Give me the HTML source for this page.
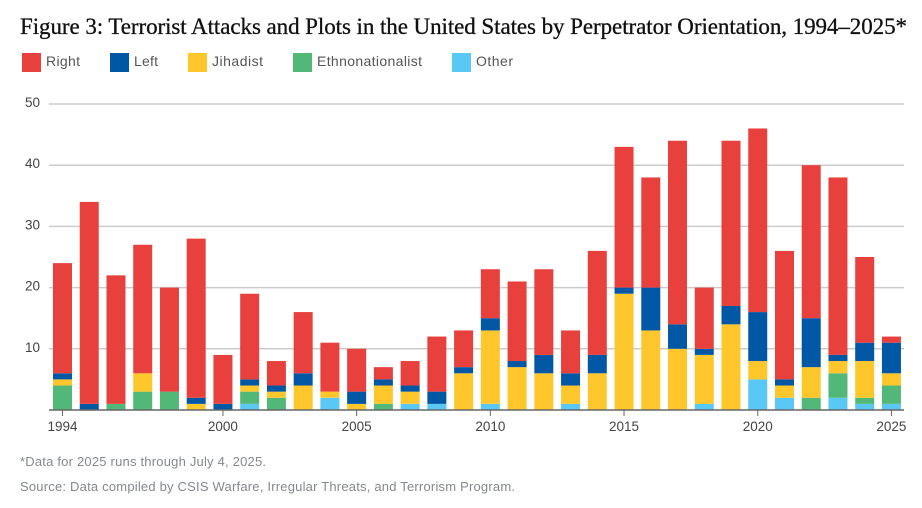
<!DOCTYPE html>
<html lang="en">
<head>
<meta charset="utf-8">
<title>Terrorist Attacks and Plots in the United States by Perpetrator Orientation</title>
<style>
html,body{margin:0;padding:0;background:#fff;width:922px;height:508px;overflow:hidden}
svg{display:block}
.sans{font-family:"Liberation Sans",sans-serif}
.serif{font-family:"Liberation Serif",serif}
</style>
</head>
<body>
<svg id="chart" width="922" height="508" viewBox="0 0 922 508" xmlns="http://www.w3.org/2000/svg">
  <text class="serif" x="20" y="34" font-size="23" fill="#111" stroke="#111" stroke-width="0.3" textLength="887" lengthAdjust="spacing">Figure 3: Terrorist Attacks and Plots in the United States by Perpetrator Orientation, 1994–2025*</text>
  <g class="sans" font-size="14" fill="#555">
    <g><rect x="22" y="53" width="19" height="19" fill="#E8403D"/><text x="46" y="66" textLength="34">Right</text></g>
    <g><rect x="110" y="53" width="19" height="19" fill="#0057A4"/><text x="134" y="66" textLength="24">Left</text></g>
    <g><rect x="188" y="53" width="19" height="19" fill="#FFC72C"/><text x="212" y="66" textLength="51">Jihadist</text></g>
    <g><rect x="293" y="53" width="19" height="19" fill="#52B878"/><text x="317" y="66" textLength="105">Ethnonationalist</text></g>
    <g><rect x="452" y="53" width="19" height="19" fill="#5AC8F5"/><text x="476" y="66" textLength="37">Other</text></g>
  </g>
  <g id="grid"></g>
  <g id="bars"></g>
  <g id="xaxis"></g>
  <text class="sans" x="20" y="466" font-size="13" fill="#85888c" textLength="246">*Data for 2025 runs through July 4, 2025.</text>
  <text class="sans" x="20" y="491" font-size="13" fill="#85888c" textLength="495">Source: Data compiled by CSIS Warfare, Irregular Threats, and Terrorism Program.</text>
</svg>
<script>
const years = [1994,1995,1996,1997,1998,1999,2000,2001,2002,2003,2004,2005,2006,2007,2008,2009,2010,2011,2012,2013,2014,2015,2016,2017,2018,2019,2020,2021,2022,2023,2024,2025];
const other = [0,0,0,0,0,0,0,1,0,0,2,0,0,1,1,0,1,0,0,1,0,0,0,0,1,0,5,2,0,2,1,1];
const ethnonationalist = [4,0,1,3,3,0,0,2,2,0,0,0,1,0,0,0,0,0,0,0,0,0,0,0,0,0,0,0,2,4,1,3];
const jihadist = [1,0,0,3,0,1,0,1,1,4,1,1,3,2,0,6,12,7,6,3,6,19,13,10,8,14,3,2,5,2,6,2];
const left = [1,1,0,0,0,1,1,1,1,2,0,2,1,1,2,1,2,1,3,2,3,1,7,4,1,3,8,1,8,1,3,5];
const right = [18,33,21,21,17,26,8,14,4,10,8,7,2,4,9,6,8,13,14,7,17,23,18,30,10,27,30,21,25,29,14,1];
const yTicks = [10,20,30,40,50];
const xTickLabels = [1994,2000,2005,2010,2015,2020,2025];

const NS = 'http://www.w3.org/2000/svg';
const seriesList = [
  {key:'other', values:other, color:'#5AC8F5'},
  {key:'ethnonationalist', values:ethnonationalist, color:'#52B878'},
  {key:'jihadist', values:jihadist, color:'#FFC72C'},
  {key:'left', values:left, color:'#0057A4'},
  {key:'right', values:right, color:'#E8403D'}
];
const x0 = 62.5, xStep = 26.74, barW = 19, baseY = 410, unit = 6.12;
const xScale = function (year) { return x0 + (year - years[0]) * xStep; };
const yScale = function (v) { return baseY - v * unit; };
const gridG = document.getElementById('grid');
const barsG = document.getElementById('bars');
const axisG = document.getElementById('xaxis');

yTicks.forEach(function (t) {
  const line = document.createElementNS(NS, 'line');
  
  
  line.setAttribute('x1', 49);
  line.setAttribute('x2', 904);
  line.setAttribute('y1', yScale(t));
  line.setAttribute('y2', yScale(t));
  line.setAttribute('stroke', '#cbcbcb');
  line.setAttribute('stroke-width', '1.5');
  gridG.appendChild(line);
  const label = document.createElementNS(NS, 'text');
  
  
  label.setAttribute('x', 40);
  label.setAttribute('y', yScale(t) + 3);
  label.setAttribute('text-anchor', 'end');
  label.setAttribute('font-family', '"Liberation Sans",sans-serif');
  label.setAttribute('font-size', '13.5');
  label.setAttribute('fill', '#444');
  label.textContent = t;
  gridG.appendChild(label);
});

years.forEach(function (year, i) {
  let cum = 0;
  seriesList.forEach(function (s) {
    const v = s.values[i];
    if (v > 0) {
      const r = document.createElementNS(NS, 'rect');
      
      
      r.setAttribute('x', xScale(year) - barW / 2);
      r.setAttribute('y', yScale(cum + v));
      r.setAttribute('width', barW);
      r.setAttribute('height', v * unit);
      r.setAttribute('fill', s.color);
      barsG.appendChild(r);
      cum += v;
    }
  });
});

const axisLine = document.createElementNS(NS, 'line');


axisLine.setAttribute('x1', 49);
axisLine.setAttribute('x2', 904);
axisLine.setAttribute('y1', baseY);
axisLine.setAttribute('y2', baseY);
axisLine.setAttribute('stroke', '#666');
axisLine.setAttribute('stroke-width', '1.5');
axisG.appendChild(axisLine);

xTickLabels.forEach(function (year) {
  const tick = document.createElementNS(NS, 'line');
  
  
  tick.setAttribute('x1', xScale(year));
  tick.setAttribute('x2', xScale(year));
  tick.setAttribute('y1', baseY);
  tick.setAttribute('y2', baseY + 6);
  tick.setAttribute('stroke', '#666');
  tick.setAttribute('stroke-width', '1');
  axisG.appendChild(tick);
  const label = document.createElementNS(NS, 'text');
  
  
  label.setAttribute('x', xScale(year));
  label.setAttribute('y', baseY + 21);
  label.setAttribute('text-anchor', 'middle');
  label.setAttribute('font-family', '"Liberation Sans",sans-serif');
  label.setAttribute('font-size', '13.5');
  label.setAttribute('fill', '#444');
  label.textContent = year;
  axisG.appendChild(label);
});
</script>
</body>
</html>
